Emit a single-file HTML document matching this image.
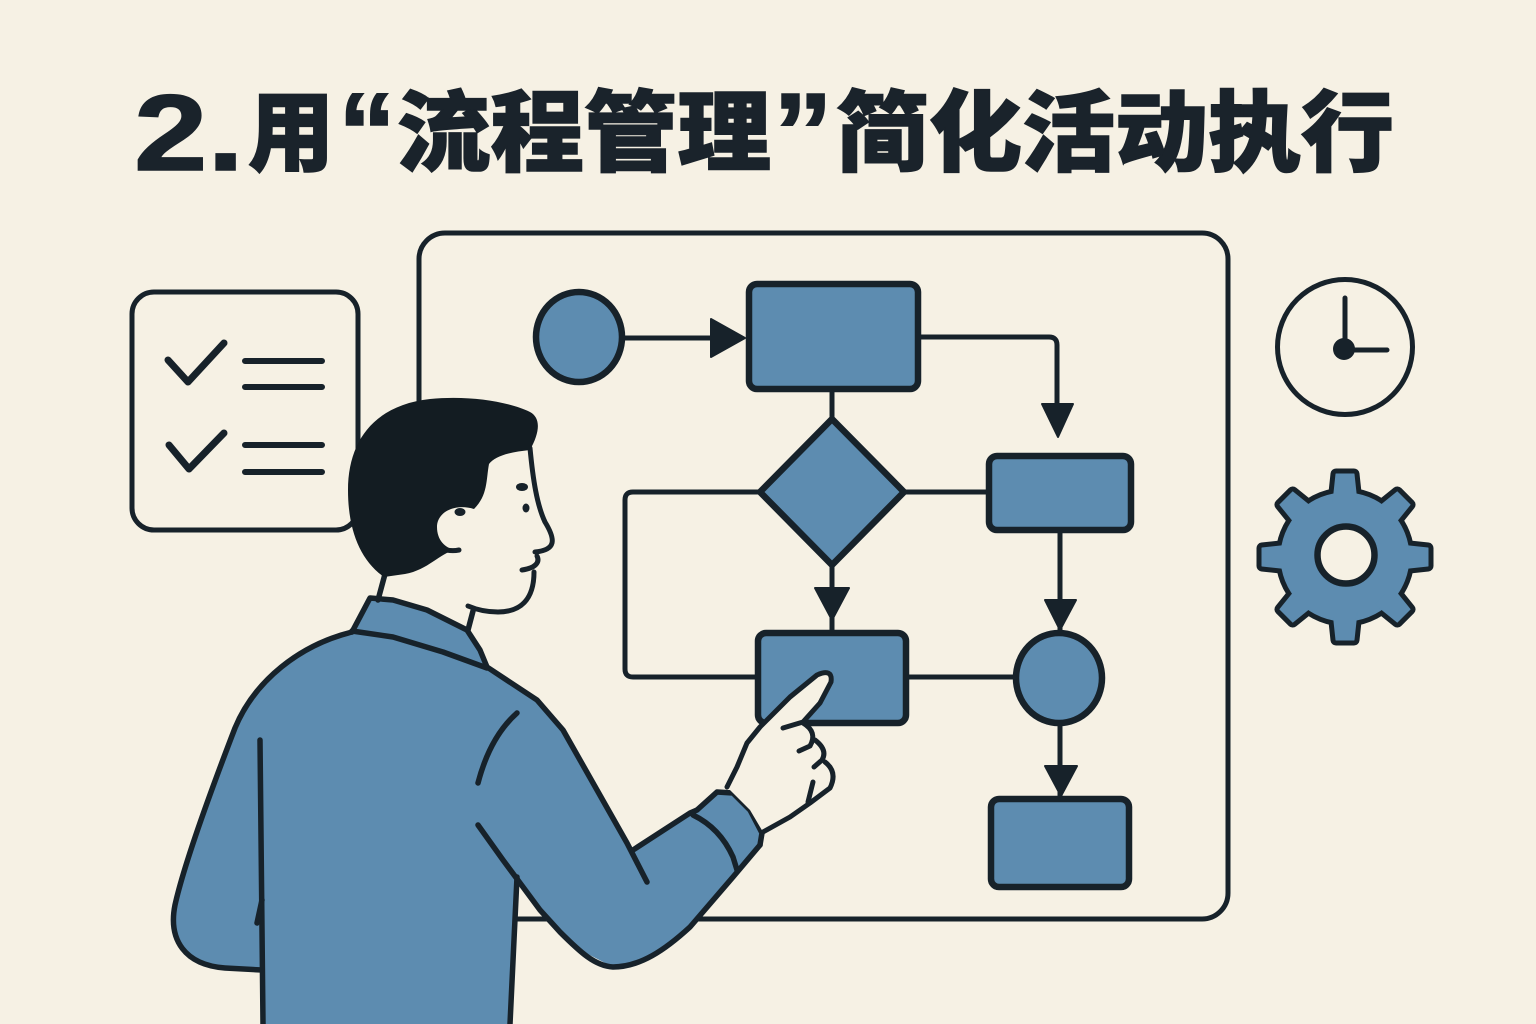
<!DOCTYPE html>
<html><head><meta charset="utf-8"><style>
html,body{margin:0;padding:0;background:#f6f1e4;}
svg{display:block}
</style></head><body>
<svg width="1536" height="1024" viewBox="0 0 1536 1024" xmlns="http://www.w3.org/2000/svg">
<rect width="1536" height="1024" fill="#f6f1e4"/>

<!-- Title -->
<g fill="#1a232b" stroke="#1a232b" stroke-width="1.5" font-weight="900">
  <text x="134" y="170" font-family="'Liberation Sans', sans-serif" font-size="108" textLength="110" lengthAdjust="spacingAndGlyphs">2.</text>
  <text x="248" y="164" font-family="'Liberation Sans', 'Noto Sans CJK SC', sans-serif" font-size="88" textLength="86" lengthAdjust="spacingAndGlyphs">用</text>
  <text x="338" y="170" font-family="'Liberation Sans', sans-serif" font-size="110" textLength="58" lengthAdjust="spacingAndGlyphs">“</text>
  <text x="397" y="164" font-family="'Liberation Sans', 'Noto Sans CJK SC', sans-serif" font-size="88" textLength="374" lengthAdjust="spacingAndGlyphs">流程管理</text>
  <text x="773" y="170" font-family="'Liberation Sans', sans-serif" font-size="110" textLength="60" lengthAdjust="spacingAndGlyphs">”</text>
  <text x="836" y="164" font-family="'Liberation Sans', 'Noto Sans CJK SC', sans-serif" font-size="88" textLength="558" lengthAdjust="spacingAndGlyphs">简化活动执行</text>
</g>

<g stroke="#17222a" fill="none" stroke-linecap="round" stroke-linejoin="round">
  <!-- Checklist -->
  <rect x="132" y="292" width="226" height="238" rx="22" stroke-width="5"/>
  <path d="M168,360 L188,382 L224,343" stroke-width="7"/>
  <path d="M169,445 L189,469 L224,433" stroke-width="7"/>
  <path d="M245,361 H322 M245,387 H322 M245,445 H322 M245,472 H322" stroke-width="6"/>

  <!-- Board frame -->
  <rect x="419" y="233" width="809" height="686" rx="26" stroke-width="5"/>

  <!-- Connectors -->
  <path d="M625,338 H716" stroke-width="5"/>
  <path d="M919,337 H1049 Q1057,337 1057,345 V408" stroke-width="5"/>
  <path d="M832,390 V420" stroke-width="5"/>
  <path d="M905,492 H990" stroke-width="5"/>
  <path d="M759,492 H633 Q625,492 625,500 V669 Q625,677 633,677 H758" stroke-width="5"/>
  <path d="M832,566 V633" stroke-width="5"/>
  <path d="M907,677 H1016" stroke-width="5"/>
  <path d="M1060,531 V632" stroke-width="5"/>
  <path d="M1060,724 V798" stroke-width="5"/>
</g>

<!-- Arrowheads -->
<g fill="#17222a" stroke="#17222a" stroke-width="2" stroke-linejoin="round">
  <polygon points="711,319 745,338 711,357"/>
  <polygon points="1042,404 1073,404 1058,437"/>
  <polygon points="815,588 849,588 832,620"/>
  <polygon points="1045,600 1076,600 1060,630"/>
  <polygon points="1045,766 1077,766 1061,796"/>
</g>

<!-- Nodes -->
<g fill="#5d8cb0" stroke="#17222a" stroke-width="6.5" stroke-linejoin="round">
  <ellipse cx="579" cy="337" rx="43" ry="45"/>
  <rect x="749" y="284" width="169" height="105" rx="8"/>
  <polygon points="832,419 904,492 832,565 760,492"/>
  <rect x="989" y="456" width="142" height="74" rx="8"/>
  <rect x="758" y="633" width="148" height="90" rx="8"/>
  <ellipse cx="1059" cy="678" rx="43" ry="45"/>
  <rect x="991" y="799" width="138" height="88" rx="8"/>
</g>

<!-- Clock -->
<g stroke="#17222a" fill="none" stroke-linecap="round">
  <circle cx="1345" cy="347" r="67.5" stroke-width="5"/>
  <path d="M1345,349 V298 M1345,350 H1387" stroke-width="5"/>
</g>
<circle cx="1344" cy="349" r="11" fill="#17222a"/>

<!-- Gear -->
<g transform="translate(1345,557)">
  <g fill="#17222a" stroke="#17222a" stroke-width="11" stroke-linejoin="round">
    <circle r="64"/>
    <polygon points="-9,-83 9,-83 12,-55 -12,-55"/>
    <polygon points="-9,-83 9,-83 12,-55 -12,-55" transform="rotate(45)"/>
    <polygon points="-9,-83 9,-83 12,-55 -12,-55" transform="rotate(90)"/>
    <polygon points="-9,-83 9,-83 12,-55 -12,-55" transform="rotate(135)"/>
    <polygon points="-9,-83 9,-83 12,-55 -12,-55" transform="rotate(180)"/>
    <polygon points="-9,-83 9,-83 12,-55 -12,-55" transform="rotate(225)"/>
    <polygon points="-9,-83 9,-83 12,-55 -12,-55" transform="rotate(270)"/>
    <polygon points="-9,-83 9,-83 12,-55 -12,-55" transform="rotate(315)"/>
  </g>
  <g fill="#5d8cb0" stroke="#5d8cb0" stroke-width="1" stroke-linejoin="round">
    <circle r="64"/>
    <polygon points="-9,-83 9,-83 12,-55 -12,-55"/>
    <polygon points="-9,-83 9,-83 12,-55 -12,-55" transform="rotate(45)"/>
    <polygon points="-9,-83 9,-83 12,-55 -12,-55" transform="rotate(90)"/>
    <polygon points="-9,-83 9,-83 12,-55 -12,-55" transform="rotate(135)"/>
    <polygon points="-9,-83 9,-83 12,-55 -12,-55" transform="rotate(180)"/>
    <polygon points="-9,-83 9,-83 12,-55 -12,-55" transform="rotate(225)"/>
    <polygon points="-9,-83 9,-83 12,-55 -12,-55" transform="rotate(270)"/>
    <polygon points="-9,-83 9,-83 12,-55 -12,-55" transform="rotate(315)"/>
  </g>
  <circle cx="1" cy="-2" r="28.5" fill="#f6f1e4" stroke="#17222a" stroke-width="6.5"/>
</g>

<!-- Person: face / neck fill -->
<path d="M530,446 L545,522 L557,545 L535,553 L537,557 L534,572 L530,595 L515,611 L473,611 L468,632 L440,625 L376,603 L385,572 L440,552 L436,525 L460,503 L487,490 L490,460 Z" fill="#f6f1e4"/>

<!-- Shirt fill -->
<path d="M370,598 L393,600 L427,610 L467,630 L480,650 L487,667 L537,700 L563,730 L597,790 L627,843 L633,850 L662,831 L697,810 L717,792 L733,793 L750,810 L762,833 L760,845 L733,877 L690,927 L647,960 L613,967 L580,950 L540,910 L517,877 L510,1024 L263,1024 L262,970 L225,968 C185,965 168,940 175,905 C185,860 215,780 235,728 C255,680 300,645 352,632 Z" fill="#5d8cb0"/>

<!-- Shirt strokes -->
<g stroke="#17222a" fill="none" stroke-width="5.5" stroke-linecap="round" stroke-linejoin="round">
  <path d="M352,632 L370,598 L393,600 L427,610 L467,630 L480,650 L487,667 L537,700 L563,730 L597,790 L627,843 L647,882"/>
  <path d="M352,631 L393,637 L443,652 L487,668"/>
  <path d="M352,632 C300,645 255,680 235,728 C215,780 185,860 175,905 C168,940 185,965 225,968 L262,970"/>
  <path d="M633,850 L690,813 L697,810"/>
  <path d="M697,810 L717,792 L733,793 L750,810 L762,833 L760,845"/>
  <path d="M693,815 Q720,828 733,857 L737,870"/>
  <path d="M760,845 L733,877 L690,927 C665,950 640,967 613,967 C595,966 580,952 560,932 L540,910 L503,860 L478,825"/>
  <path d="M517,877 L510,1024"/>
  <path d="M260,740 L263,1024"/>
  <path d="M262,900 L257,923"/>
  <path d="M517,713 Q490,737 478,783"/>
  <path d="M385,574 L378,600"/>
  <path d="M473,611 L468,630"/>
</g>

<!-- Face strokes -->
<g stroke="#17222a" fill="none" stroke-width="5" stroke-linecap="round" stroke-linejoin="round">
  <path d="M530,448 C533,480 537,505 545,522 C556,540 556,550 535,552"/>
  <path d="M537,556 C540,562 536,568 522,570"/>
  <path d="M534,572 C534,600 520,612 498,612 C485,612 475,609 468,606"/>
  <path d="M440,548 Q450,552 459,550"/>
</g>
<g fill="#17222a">
  <ellipse cx="522" cy="487" rx="6" ry="4"/>
  <ellipse cx="526" cy="508" rx="3.5" ry="4.5"/>
  <ellipse cx="460" cy="512" rx="5.5" ry="4"/>
</g>

<!-- Hair -->
<path d="M384,577 C360,560 348,530 348,490 C348,440 375,405 430,399 C470,395 510,402 530,412 C541,418 540,432 530,450 C510,452 495,456 489,464 C486,480 488,495 474,509 C455,503 437,512 437,527 C437,540 445,548 455,550 C440,553 428,570 405,574 Z" fill="#131c22"/>

<!-- Hand -->
<path d="M727,787 L737,767 L747,743 L760,727 L790,697 L817,675 L828,673 L832,683 L820,703 L803,722 L813,737 L820,745 L823,757 L828,763 L833,773 L827,790 L810,803 L790,817 L763,832 L750,810 L733,793 Z" fill="#f6f1e4"/>
<g stroke="#17222a" fill="none" stroke-width="5" stroke-linecap="round" stroke-linejoin="round">
  <path d="M727,787 L737,767 L747,743 L760,727 L790,697 L817,675 Q833,668 831,682 L820,703 L803,722 L783,728"/>
  <path d="M803,723 Q818,732 810,746 L799,751"/>
  <path d="M815,740 Q828,750 822,760 L814,767"/>
  <path d="M825,762 Q838,772 830,788 L810,803 L790,817 L763,832"/>
  <path d="M813,782 L808,802"/>
</g>
</svg>
</body></html>
